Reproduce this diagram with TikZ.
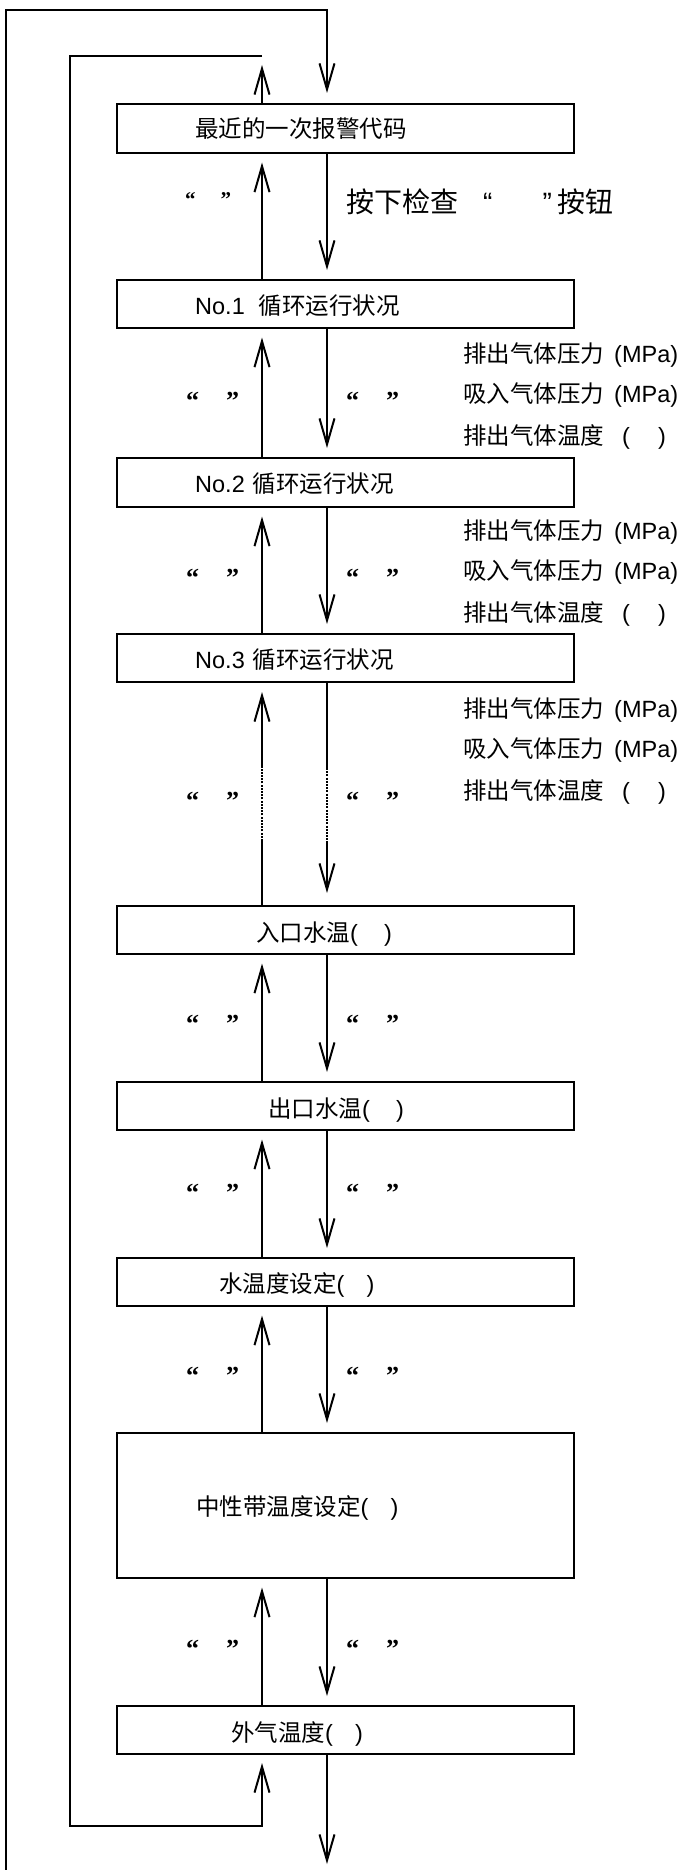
\documentclass[tikz,border=0pt]{standalone}
\usepackage{fontspec}
\setmainfont{Liberation Sans}
\newfontfamily\cjkf{Noto Sans CJK SC}
\newfontfamily\qfont{Liberation Serif}
\usetikzlibrary{arrows.meta}
\begin{document}
\begin{tikzpicture}[x=1pt,y=-1pt,
  box/.style={draw, line width=2pt, minimum width=457pt, inner sep=0pt, outer sep=0pt},
  arr/.style={line width=2pt, -{Straight Barb[length=26pt,width=15pt]}},
  plain/.style={line width=2pt},
  dotline/.style={line width=2pt, dash pattern=on 2pt off 1.2pt},
  txt/.style={anchor=base west, inner sep=0pt, font=\fontsize{23.5}{28}\selectfont},
  rtxt/.style={anchor=base west, inner sep=0pt, font=\fontsize{23.5}{28}\selectfont},
  qt/.style={anchor=base west, inner sep=0pt, font=\qfont\bfseries\fontsize{26}{30}\selectfont}]
\fill[white] (0,0) rectangle (685,1870);
\useasboundingbox (0,0) rectangle (685,1870);
\coordinate (ux) at (262,0);
\coordinate (dx) at (327,0);
% boxes
\node[box, minimum height=49pt] (b1) at (345.5,128.5) {};
\node[box, minimum height=48pt] (b2) at (345.5,304) {};
\node[box, minimum height=49pt] (b3) at (345.5,482.5) {};
\node[box, minimum height=48pt] (b4) at (345.5,658) {};
\node[box, minimum height=48pt] (b5) at (345.5,930) {};
\node[box, minimum height=48pt] (b6) at (345.5,1106) {};
\node[box, minimum height=48pt] (b7) at (345.5,1282) {};
\node[box, minimum height=145pt] (b8) at (345.5,1505.5) {};
\node[box, minimum height=48pt] (b9) at (345.5,1730) {};
% box texts
\node[txt] (t1) at (195,138) {\cjkf 最近的一次报警代码};
\node[txt] (t2) at (195,314) {No.1\hspace{14pt}{\cjkf 循环运行状况}};
\node[txt] (t3) at (195,492) {No.2\hspace{8pt}{\cjkf 循环运行状况}};
\node[txt] (t4) at (195,668) {No.3\hspace{8pt}{\cjkf 循环运行状况}};
\node[txt] (t5) at (256,941) {{\cjkf 入口水温}(\hspace{26pt})};
\node[txt] (t6) at (268,1117) {{\cjkf 出口水温}(\hspace{26pt})};
\node[txt] (t7) at (219,1292) {{\cjkf 水温度设定}(\hspace{22pt})};
\node[txt] (t8) at (196,1515) {{\cjkf 中性带温度设定}(\hspace{22pt})};
\node[txt] (t9) at (231,1741) {{\cjkf 外气温度}(\hspace{22pt})};
% gap arrows
\foreach \a/\b in {b1/b2,b2/b3,b3/b4,b5/b6,b6/b7,b7/b8,b8/b9}{
  \draw[arr, shorten >=9.5pt] (\b.north -| ux) -- (\a.south -| ux);
  \draw[arr, shorten >=10pt] (\a.south -| dx) -- (\b.north -| dx);
}
% dotted gap
\coordinate (dA) at (0,768);
\coordinate (dB) at (0,841);
\draw[plain] (b5.north -| ux) -- (dB -| ux);
\draw[dotline] (dB -| ux) -- (dA -| ux);
\draw[arr, shorten >=10pt] (dA -| ux) -- (b4.south -| ux);
\draw[plain] (b4.south -| dx) -- (dA -| dx);
\draw[dotline] (dA -| dx) -- (dB -| dx);
\draw[arr, shorten >=13pt] (dB -| dx) -- (b5.north -| dx);
% outer loop
\coordinate (obot) at (6,1875);
\coordinate (otop) at (6,10);
\draw[arr, shorten >=11pt] (obot) -- (otop) -| (b1.north -| dx);
% inner loop
\coordinate (itr) at (262,56);
\coordinate (itl) at (70,56);
\coordinate (ibl) at (70,1826);
\coordinate (ibr) at (262,1826);
\draw[arr, shorten >=9pt] (b1.north -| ux) -- (itr);
\draw[arr, shorten >=9pt] (itr) -- (itl) -- (ibl) -- (ibr) -- (b9.south -| ux);
% bottom exit
\coordinate (bend) at (327,1864);
\draw[arr] (b9.south -| dx) -- (bend);
% button label
\node[anchor=base west, inner sep=0pt, font=\fontsize{28}{32}\selectfont] (btn) at (346,212.5)
  {{\cjkf 按下检查}\hspace{25pt}“\hspace{50pt}”\hspace{6pt}{\cjkf 按钮}};
% quote labels
\node[anchor=base west, inner sep=0pt, font=\qfont\bfseries\fontsize{21}{24}\selectfont] (q1l) at (185,207) {“\hspace{25pt}”};
\foreach \y [count=\i] in {409,586,809,1032,1201,1384,1657}{
  \node[qt] (ql\i) at (186,\y) {“\hspace{27pt}”};
  \node[qt] (qr\i) at (346,\y) {“\hspace{27pt}”};
}
% right column
\foreach \y [count=\i] in {362,539,717}{
  \node[rtxt] (ra\i) at (463,\y) {{\cjkf 排出气体压力}\hspace{10pt}(MPa)};
  \node[rtxt] (rb\i) at (463,\y+40) {{\cjkf 吸入气体压力}\hspace{10pt}(MPa)};
  \node[rtxt] (rc\i) at (463,\y+82) {{\cjkf 排出气体温度}\hspace{18pt}(\hspace{28pt})};
}
\end{tikzpicture}
\end{document}
